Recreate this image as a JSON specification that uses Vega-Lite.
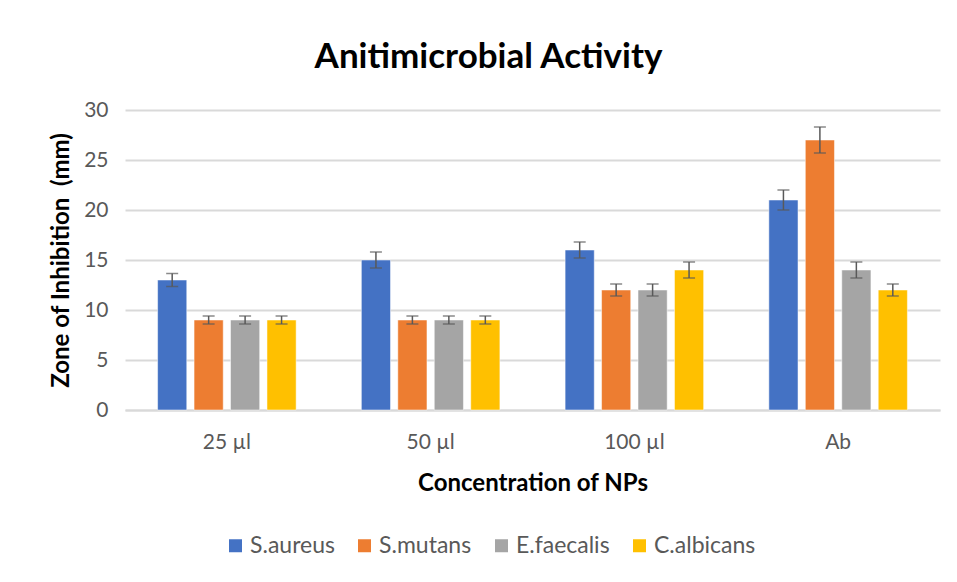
{
  "$schema": "https://vega.github.io/schema/vega-lite/v6.json",
  "width": 815,
  "height": 300,
  "autosize": "none",
  "padding": {"left": 125, "top": 110, "right": 17, "bottom": 172},
  "background": "white",
  "title": {
    "text": "Anitimicrobial Activity",
    "anchor": "middle",
    "dx": -44,
    "offset": 24,
    "font": "Lato",
    "fontSize": 35,
    "fontWeight": "bold",
    "color": "#000000"
  },
  "data": {
    "values": [
      {"conc": "25 µl", "org": "S.aureus", "value": 13, "lo": 12.35, "hi": 13.65},
      {"conc": "25 µl", "org": "S.mutans", "value": 9, "lo": 8.6, "hi": 9.4},
      {"conc": "25 µl", "org": "E.faecalis", "value": 9, "lo": 8.6, "hi": 9.4},
      {"conc": "25 µl", "org": "C.albicans", "value": 9, "lo": 8.6, "hi": 9.4},
      {"conc": "50 µl", "org": "S.aureus", "value": 15, "lo": 14.2, "hi": 15.8},
      {"conc": "50 µl", "org": "S.mutans", "value": 9, "lo": 8.6, "hi": 9.4},
      {"conc": "50 µl", "org": "E.faecalis", "value": 9, "lo": 8.6, "hi": 9.4},
      {"conc": "50 µl", "org": "C.albicans", "value": 9, "lo": 8.6, "hi": 9.4},
      {"conc": "100 µl", "org": "S.aureus", "value": 16, "lo": 15.2, "hi": 16.8},
      {"conc": "100 µl", "org": "S.mutans", "value": 12, "lo": 11.4, "hi": 12.6},
      {"conc": "100 µl", "org": "E.faecalis", "value": 12, "lo": 11.4, "hi": 12.6},
      {"conc": "100 µl", "org": "C.albicans", "value": 14, "lo": 13.2, "hi": 14.8},
      {"conc": "Ab", "org": "S.aureus", "value": 21, "lo": 20, "hi": 22},
      {"conc": "Ab", "org": "S.mutans", "value": 27, "lo": 25.7, "hi": 28.3},
      {"conc": "Ab", "org": "E.faecalis", "value": 14, "lo": 13.2, "hi": 14.8},
      {"conc": "Ab", "org": "C.albicans", "value": 12, "lo": 11.4, "hi": 12.6}
    ]
  },
  "encoding": {
    "x": {
      "field": "conc",
      "type": "nominal",
      "sort": ["25 µl", "50 µl", "100 µl", "Ab"],
      "scale": {"paddingInner": 0.32, "paddingOuter": 0.16},
      "axis": {
        "title": "Concentration of NPs",
        "labelAngle": 0,
        "labelFont": "Lato",
        "labelFontSize": 21,
        "labelColor": "#595959",
        "labelPadding": 21,
        "ticks": false,
        "domain": true,
        "domainColor": "#d9d9d9",
        "domainWidth": 2,
        "titleFont": "Lato",
        "titleFontSize": 24,
        "titleFontWeight": "bold",
        "titleColor": "#000000",
        "titlePadding": 19
      }
    },
    "xOffset": {
      "field": "org",
      "type": "nominal",
      "sort": ["S.aureus", "S.mutans", "E.faecalis", "C.albicans"],
      "scale": {"paddingInner": 0.2, "paddingOuter": 0}
    }
  },
  "layer": [
    {
      "mark": {"type": "bar", "stroke": "white", "strokeOpacity": 0.5, "strokeWidth": 1},
      "encoding": {
        "y": {
          "field": "value",
          "type": "quantitative",
          "scale": {"domain": [0, 30]},
          "axis": {
            "title": "Zone of Inhibition\u00a0 (mm)",
            "values": [0, 5, 10, 15, 20, 25, 30],
            "domain": false,
            "ticks": false,
            "grid": true,
            "gridColor": "#d9d9d9",
            "gridWidth": 2,
            "labelFont": "Lato",
            "labelFontSize": 21,
            "labelColor": "#595959",
            "labelPadding": 17,
            "titleFont": "Lato",
            "titleFontSize": 24,
            "titleFontWeight": "bold",
            "titleColor": "#000000",
            "titlePadding": 10
          }
        },
        "color": {
          "field": "org",
          "type": "nominal",
          "sort": ["S.aureus", "S.mutans", "E.faecalis", "C.albicans"],
          "scale": {
            "domain": ["S.aureus", "S.mutans", "E.faecalis", "C.albicans"],
            "range": ["#4472C4", "#ED7D31", "#A5A5A5", "#FFC000"]
          },
          "legend": {
            "title": null,
            "orient": "none",
            "direction": "horizontal",
            "columns": 4,
            "legendX": 99,
            "legendY": 424,
            "symbolType": "square",
            "symbolSize": 169,
            "symbolStrokeWidth": 0,
            "labelFont": "Lato",
            "labelFontSize": 23,
            "labelColor": "#595959",
            "labelOffset": 3,
            "columnPadding": 18
          }
        }
      }
    },
    {
      "mark": {"type": "rule", "color": "#595959", "strokeWidth": 1.5},
      "encoding": {
        "y": {"field": "lo", "type": "quantitative"},
        "y2": {"field": "hi"}
      }
    },
    {
      "mark": {"type": "tick", "color": "#595959", "thickness": 1.5, "size": 12},
      "encoding": {"y": {"field": "lo", "type": "quantitative"}}
    },
    {
      "mark": {"type": "tick", "color": "#595959", "thickness": 1.5, "size": 12},
      "encoding": {"y": {"field": "hi", "type": "quantitative"}}
    }
  ],
  "config": {"view": {"stroke": null}}
}
